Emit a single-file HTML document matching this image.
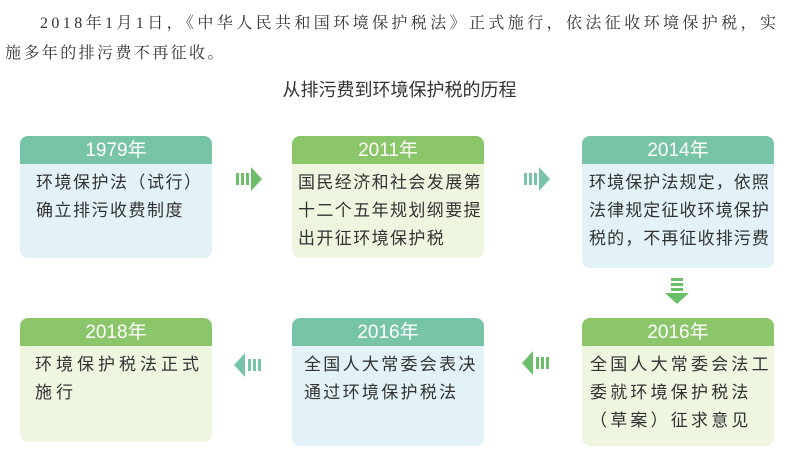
<!DOCTYPE html>
<html><head><meta charset="utf-8"><style>
body{margin:0;width:799px;height:452px;background:#fff;position:relative;overflow:hidden;font-family:"Liberation Sans","Noto Sans CJK SC",sans-serif;color:#333}
.p{position:absolute;font-family:"Liberation Serif","Noto Serif CJK SC",serif;font-size:16px;color:#333;white-space:nowrap}
.t{position:absolute;left:0;width:799px;text-align:center;top:76px;font-size:18px;color:#333}
.b{position:absolute;width:192px;border-radius:8px;overflow:hidden}
.h{height:28px;line-height:29px;text-align:center;color:#fff;font-size:19px}
.c{padding:5px 0 0 7px;font-size:17px;line-height:28px;letter-spacing:3px;color:#333;white-space:nowrap}
.bl{background:#e2f2f6}.gr{background:#eef6e0}
.ht{background:#78c4a6}.hg{background:#8cc66a}
svg{position:absolute}
</style></head><body>
<div class="p" style="left:40px;top:10px;letter-spacing:3.4px">2018年1月1日，《中华人民共和国环境保护税法》正式施行，依法征收环境保护税，实</div>
<div class="p" style="left:5px;top:40px;letter-spacing:2.4px">施多年的排污费不再征收。</div>
<div class="t">从排污费到环境保护税的历程</div>

<div class="b bl" style="left:20px;top:136px;height:122px"><div class="h ht">1979年</div><div class="c" style="padding-left:16px;letter-spacing:1.5px">环境保护法（试行）<br>确立排污收费制度</div></div>
<div class="b gr" style="left:292px;top:136px;height:122px"><div class="h hg">2011年</div><div class="c" style="letter-spacing:1.4px;padding-left:6px">国民经济和社会发展第<br>十二个五年规划纲要提<br>出开征环境保护税</div></div>
<div class="b bl" style="left:582px;top:136px;height:132px"><div class="h ht">2014年</div><div class="c" style="letter-spacing:1.1px;padding-left:7px">环境保护法规定，依照<br>法律规定征收环境保护<br>税的，不再征收排污费</div></div>

<div class="b gr" style="left:20px;top:318px;height:124px"><div class="h hg">2018年</div><div class="c" style="letter-spacing:4px;padding-left:15px">环境保护税法正式<br>施行</div></div>
<div class="b bl" style="left:292px;top:318px;height:128px"><div class="h ht">2016年</div><div class="c" style="letter-spacing:2.3px;padding-left:12px">全国人大常委会表决<br>通过环境保护税法</div></div>
<div class="b gr" style="left:582px;top:318px;height:128px"><div class="h hg">2016年</div><div class="c" style="letter-spacing:3.2px;padding-left:8px">全国人大常委会法工<br>委就环境保护税法<br>（草案）征求意见</div></div>

<svg style="left:236px;top:166px" width="28" height="26"><g fill="#6cbf6a"><rect x="0" y="7" width="3" height="12"/><rect x="5" y="7" width="3" height="12"/><rect x="10" y="7" width="3" height="12"/><polygon points="15,1 26,13 15,25"/></g></svg>
<svg style="left:524px;top:166px" width="28" height="26"><g fill="#78c4a6"><rect x="0" y="7" width="3" height="12"/><rect x="5" y="7" width="3" height="12"/><rect x="10" y="7" width="3" height="12"/><polygon points="15,1 26,13 15,25"/></g></svg>
<svg style="left:664px;top:278px" width="26" height="28"><g fill="#6cbf6a"><rect x="7" y="0" width="12" height="3"/><rect x="7" y="5" width="12" height="3"/><rect x="7" y="10" width="12" height="3"/><polygon points="1,15 25,15 13,26"/></g></svg>
<svg style="left:522px;top:350px" width="28" height="26"><g fill="#6cbf6a"><polygon points="11,1 0,13 11,25"/><rect x="14" y="7" width="3" height="12"/><rect x="19" y="7" width="3" height="12"/><rect x="24" y="7" width="3" height="12"/></g></svg>
<svg style="left:234px;top:352px" width="28" height="26"><g fill="#78c4a6"><polygon points="11,1 0,13 11,25"/><rect x="14" y="7" width="3" height="12"/><rect x="19" y="7" width="3" height="12"/><rect x="24" y="7" width="3" height="12"/></g></svg>
</body></html>
